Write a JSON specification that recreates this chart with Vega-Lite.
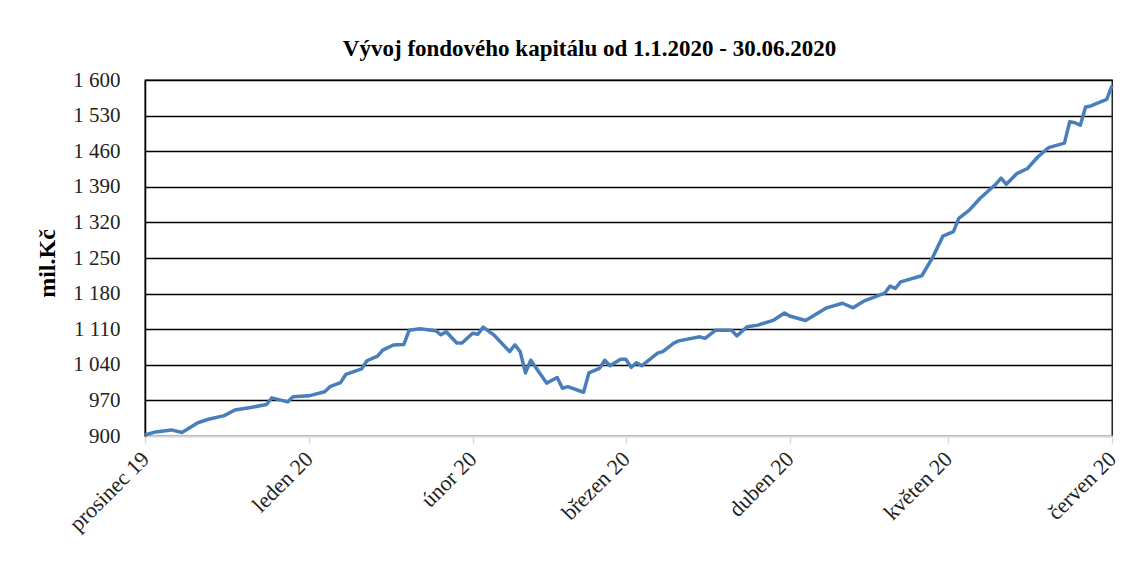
{
  "$schema": "https://vega.github.io/schema/vega-lite/v6.json",
  "width": 967,
  "height": 356,
  "autosize": {"type": "none"},
  "padding": {"left": 145, "top": 80, "right": 33, "bottom": 133},
  "background": "white",
  "title": {
    "text": "Vývoj fondového kapitálu od 1.1.2020 - 30.06.2020",
    "font": "Liberation Serif",
    "fontSize": 23,
    "fontWeight": "bold",
    "color": "black",
    "anchor": "middle",
    "dx": -39,
    "offset": 8
  },
  "config": {
    "view": {"stroke": "black", "strokeWidth": 1.3},
    "axis": {"labelFont": "Liberation Serif", "titleFont": "Liberation Serif"}
  },
  "data": {
    "values": [
      {"date": "2019-12-01T00:00", "value": 902},
      {"date": "2019-12-03T00:00", "value": 908},
      {"date": "2019-12-06T00:00", "value": 912},
      {"date": "2019-12-08T00:00", "value": 907},
      {"date": "2019-12-11T00:00", "value": 926},
      {"date": "2019-12-13T00:00", "value": 933},
      {"date": "2019-12-16T00:00", "value": 940},
      {"date": "2019-12-18T00:00", "value": 951},
      {"date": "2019-12-21T00:00", "value": 956},
      {"date": "2019-12-24T00:00", "value": 962},
      {"date": "2019-12-25T00:00", "value": 975},
      {"date": "2019-12-28T00:00", "value": 967},
      {"date": "2019-12-29T00:00", "value": 977},
      {"date": "2020-01-01T00:00", "value": 979},
      {"date": "2020-01-04T00:00", "value": 987},
      {"date": "2020-01-05T00:00", "value": 997},
      {"date": "2020-01-07T00:00", "value": 1005},
      {"date": "2020-01-08T00:00", "value": 1021},
      {"date": "2020-01-11T00:00", "value": 1032},
      {"date": "2020-01-12T00:00", "value": 1048},
      {"date": "2020-01-14T00:00", "value": 1057},
      {"date": "2020-01-15T00:00", "value": 1069},
      {"date": "2020-01-17T00:00", "value": 1079},
      {"date": "2020-01-19T00:00", "value": 1080},
      {"date": "2020-01-20T00:00", "value": 1108},
      {"date": "2020-01-22T00:00", "value": 1111},
      {"date": "2020-01-25T00:00", "value": 1107},
      {"date": "2020-01-26T00:00", "value": 1099},
      {"date": "2020-01-27T00:00", "value": 1105},
      {"date": "2020-01-29T00:00", "value": 1083},
      {"date": "2020-01-30T00:00", "value": 1083},
      {"date": "2020-02-01T00:00", "value": 1102},
      {"date": "2020-02-02T00:00", "value": 1100},
      {"date": "2020-02-03T00:00", "value": 1114},
      {"date": "2020-02-05T00:00", "value": 1099},
      {"date": "2020-02-08T00:00", "value": 1066},
      {"date": "2020-02-09T00:00", "value": 1079},
      {"date": "2020-02-10T00:00", "value": 1066},
      {"date": "2020-02-11T00:00", "value": 1024},
      {"date": "2020-02-12T00:00", "value": 1049},
      {"date": "2020-02-15T00:00", "value": 1004},
      {"date": "2020-02-17T00:00", "value": 1015},
      {"date": "2020-02-18T00:00", "value": 994},
      {"date": "2020-02-19T00:00", "value": 997},
      {"date": "2020-02-22T00:00", "value": 986},
      {"date": "2020-02-23T00:00", "value": 1024},
      {"date": "2020-02-25T00:00", "value": 1033},
      {"date": "2020-02-26T00:00", "value": 1049},
      {"date": "2020-02-27T00:00", "value": 1038},
      {"date": "2020-02-29T00:00", "value": 1051},
      {"date": "2020-03-01T00:00", "value": 1051},
      {"date": "2020-03-02T00:00", "value": 1035},
      {"date": "2020-03-03T00:00", "value": 1044},
      {"date": "2020-03-04T00:00", "value": 1038},
      {"date": "2020-03-07T00:00", "value": 1063},
      {"date": "2020-03-08T00:00", "value": 1066},
      {"date": "2020-03-10T00:00", "value": 1082},
      {"date": "2020-03-11T00:00", "value": 1087},
      {"date": "2020-03-15T00:00", "value": 1095},
      {"date": "2020-03-16T00:00", "value": 1092},
      {"date": "2020-03-18T00:00", "value": 1108},
      {"date": "2020-03-21T00:00", "value": 1108},
      {"date": "2020-03-22T00:00", "value": 1097},
      {"date": "2020-03-24T00:00", "value": 1115},
      {"date": "2020-03-26T00:00", "value": 1118},
      {"date": "2020-03-29T00:00", "value": 1128},
      {"date": "2020-03-31T00:00", "value": 1142},
      {"date": "2020-04-01T00:00", "value": 1136},
      {"date": "2020-04-04T00:00", "value": 1127},
      {"date": "2020-04-07T00:00", "value": 1146},
      {"date": "2020-04-08T00:00", "value": 1152},
      {"date": "2020-04-11T00:00", "value": 1161},
      {"date": "2020-04-13T00:00", "value": 1152},
      {"date": "2020-04-15T00:00", "value": 1165},
      {"date": "2020-04-19T00:00", "value": 1181},
      {"date": "2020-04-20T00:00", "value": 1195},
      {"date": "2020-04-21T00:00", "value": 1190},
      {"date": "2020-04-22T00:00", "value": 1203},
      {"date": "2020-04-26T00:00", "value": 1215},
      {"date": "2020-04-28T00:00", "value": 1250},
      {"date": "2020-04-30T00:00", "value": 1293},
      {"date": "2020-05-02T00:00", "value": 1302},
      {"date": "2020-05-03T00:00", "value": 1328},
      {"date": "2020-05-05T00:00", "value": 1344},
      {"date": "2020-05-07T00:00", "value": 1367},
      {"date": "2020-05-10T00:00", "value": 1395},
      {"date": "2020-05-11T00:00", "value": 1407},
      {"date": "2020-05-12T00:00", "value": 1395},
      {"date": "2020-05-14T00:00", "value": 1416},
      {"date": "2020-05-16T00:00", "value": 1426},
      {"date": "2020-05-18T00:00", "value": 1449},
      {"date": "2020-05-20T00:00", "value": 1467},
      {"date": "2020-05-23T00:00", "value": 1476},
      {"date": "2020-05-24T00:00", "value": 1518},
      {"date": "2020-05-25T00:00", "value": 1516},
      {"date": "2020-05-26T00:00", "value": 1511},
      {"date": "2020-05-27T00:00", "value": 1547},
      {"date": "2020-05-28T00:00", "value": 1549},
      {"date": "2020-05-31T00:00", "value": 1562},
      {"date": "2020-06-01T00:00", "value": 1589}
    ]
  },
  "mark": {"type": "line", "color": "#4a7ebb", "strokeWidth": 3.5, "strokeJoin": "round", "clip": false},
  "encoding": {
    "x": {
      "field": "date",
      "type": "temporal",
      "scale": {"domain": [{"year": 2019, "month": 12, "date": 1}, {"year": 2020, "month": 6, "date": 1}]},
      "axis": {
        "title": null,
        "grid": false,
        "values": [
          {"year": 2019, "month": 12, "date": 1},
          {"year": 2020, "month": 1, "date": 1},
          {"year": 2020, "month": 2, "date": 1},
          {"year": 2020, "month": 3, "date": 1},
          {"year": 2020, "month": 4, "date": 1},
          {"year": 2020, "month": 5, "date": 1},
          {"year": 2020, "month": 6, "date": 1}
        ],
        "labelExpr": "['leden','únor','březen','duben','květen','červen','červenec','srpen','září','říjen','listopad','prosinec'][month(datum.value)] + ' ' + timeFormat(datum.value, '%y')",
        "labelAngle": -45,
        "labelAlign": "right",
        "labelBaseline": "middle",
        "labelFontSize": 22,
        "labelColor": "#222222",
        "labelPadding": 12,
        "labelOverlap": false,
        "labelBound": false,
        "labelFlush": false,
        "domainColor": "#d9d9d9",
        "domainWidth": 2,
        "tickColor": "#d9d9d9",
        "tickWidth": 1.5,
        "tickSize": 7
      }
    },
    "y": {
      "field": "value",
      "type": "quantitative",
      "scale": {"domain": [900, 1600], "nice": false, "zero": false},
      "axis": {
        "title": "mil.Kč",
        "titleFontSize": 24,
        "titleFontWeight": "bold",
        "titleColor": "black",
        "titlePadding": 13,
        "titleY": 183,
        "values": [900, 970, 1040, 1110, 1180, 1250, 1320, 1390, 1460, 1530, 1600],
        "labelExpr": "replace(format(datum.value, ','), ',', ' ')",
        "labelFontSize": 21,
        "labelColor": "#222222",
        "labelPadding": 25,
        "ticks": false,
        "domainColor": "black",
        "domainWidth": 1.5,
        "grid": true,
        "gridColor": {"condition": {"test": "datum.value == 900", "value": "#d9d9d9"}, "value": "black"},
        "gridWidth": 1.5,
        "gridOpacity": 1
      }
    }
  }
}
